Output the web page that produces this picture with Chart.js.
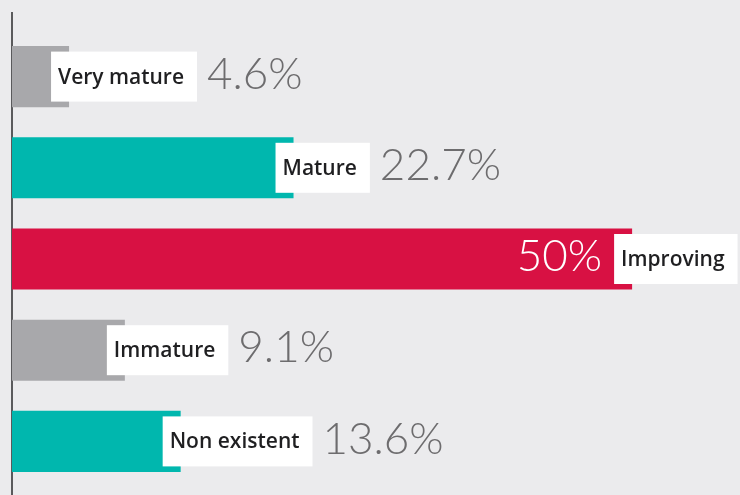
<!DOCTYPE html>
<html>
<head>
<meta charset="utf-8">
<script src="https://cdn.jsdelivr.net/npm/chart.js@4/dist/chart.umd.min.js"></script>
<style>
  html, body { margin: 0; padding: 0; background: #ebebed; }
  #wrap { width: 740px; height: 495px; position: relative; }
</style>
</head>
<body>
<div id="wrap"><canvas id="chart"></canvas></div>
<script>
const categories = ['Very mature', 'Mature', 'Improving', 'Immature', 'Non existent']
const shares = [4.6, 22.7, 50, 9.1, 13.6]
const barColors = ['#a8a8ab', '#00b7ae', '#d81143', '#a8a8ab', '#00b7ae']

const LABEL_FONT = '600 21px "Open Sans", Roboto, sans-serif'
const VALUE_FONT = '300 44px Lato, Roboto, sans-serif'

// vertical baseline at zero, running past the plot area like a rule
const baseline = {
  id: 'baseline',
  beforeDatasetsDraw(chart) {
    const {ctx, scales: {x}} = chart
    const px = x.getPixelForValue(0)
    ctx.save()
    ctx.strokeStyle = '#5a5a5c'
    ctx.lineWidth = 2
    ctx.beginPath()
    ctx.moveTo(px, 12)
    ctx.lineTo(px, chart.height)
    ctx.stroke()
    ctx.restore()
  }
}

// white name tag straddling the bar end, percentage next to it
const tags = {
  id: 'tags',
  afterDatasetsDraw(chart) {
    const {ctx, chartArea} = chart
    const meta = chart.getDatasetMeta(0)
    ctx.save()
    meta.data.forEach((bar, i) => {
      ctx.font = LABEL_FONT
      const tw = ctx.measureText(categories[i]).width
      const bx = bar.x - 18
      const bw = tw + 7 + 13
      const bh = 50
      const by = bar.y - bh / 2
      ctx.fillStyle = '#ffffff'
      ctx.fillRect(bx, by, bw, bh)
      ctx.fillStyle = '#1f1f21'
      ctx.textAlign = 'left'
      ctx.textBaseline = 'middle'
      ctx.fillText(categories[i], bx + 7, bar.y + 1)

      const txt = shares[i] + '%'
      ctx.font = VALUE_FONT
      const vw = ctx.measureText(txt).width
      if (bx + bw + 10 + vw > chartArea.right) {
        ctx.fillStyle = '#ffffff'
        ctx.textAlign = 'right'
        ctx.fillText(txt, bx - 12, bar.y - 2)
      } else {
        ctx.fillStyle = '#6d6c6e'
        ctx.textAlign = 'left'
        ctx.fillText(txt, bx + bw + 10, bar.y - 2)
      }
    })
    ctx.restore()
  }
}

new Chart(document.getElementById('chart'), {
  type: 'bar',
  data: {
    labels: categories,
    datasets: [{
      data: shares,
      backgroundColor: barColors,
      borderWidth: 0,
      barPercentage: 0.67,
      categoryPercentage: 1
    }]
  },
  options: {
    indexAxis: 'y',
    responsive: true,
    maintainAspectRatio: false,
    animation: false,
    layout: { padding: { left: 12, right: 0, top: 31, bottom: 8 } },
    plugins: {
      legend: { display: false },
      tooltip: { enabled: false }
    },
    scales: {
      x: { display: false, min: 0, max: 58.7 },
      y: { display: false }
    }
  },
  plugins: [baseline, tags]
})
</script>
</body>
</html>
